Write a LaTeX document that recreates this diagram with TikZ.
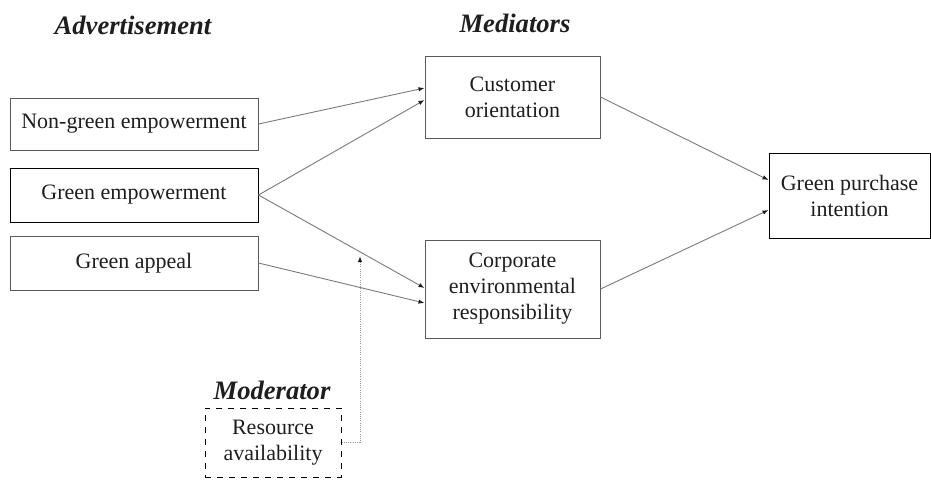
\documentclass[tikz,border=0pt]{standalone}
\usepackage{fontspec}
\setmainfont{Liberation Serif}
\usetikzlibrary{arrows.meta, positioning, calc}
\definecolor{cmInk}{HTML}{1E1E1E}
\definecolor{cmFrame}{HTML}{5A5A5A}
\definecolor{cmLine}{HTML}{7A7A7A}
\definecolor{cmDot}{HTML}{8C97B0}
\tikzset{
  cmbox/.style={
    draw=cmFrame, line width=0.5pt, text=cmInk, align=center,
    inner sep=0pt, font=\fontsize{11}{13}\selectfont,
  },
  cmtitle/.style={
    text=cmInk, inner sep=0pt, font=\fontsize{13.3}{15}\selectfont\bfseries\itshape,
  },
  cmarrow/.style={
    -{Latex[length=3pt, width=2.2pt, color=cmInk]}, draw=cmLine, line width=0.45pt,
  },
  cmdotted/.style={
    -{Latex[length=3pt, width=2.2pt, color=cmInk]}, draw=cmDot, line width=0.5pt,
    dash pattern=on 0.5pt off 0.6pt,
  },
}

\begin{document}
\begin{tikzpicture}[x=0.5pt, y=-0.5pt]
\useasboundingbox (0,0) rectangle (931,479);

% Titles ------------------------------------------------------------------
\node[cmtitle] (tadv) at (133,25) {Advertisement};
\node[cmtitle] (tmed) at (515,23) {Mediators};
\node[cmtitle] (tmod) at (272,390) {Moderator};

% Advertisement -----------------------------------------------------------
\node[cmbox, minimum width=124pt, minimum height=26pt] (ng) at (134,124) {Non-green empowerment};
\node[cmbox, draw=black, minimum width=124pt, minimum height=27pt] (g) at (134,195) {Green empowerment};
\node[cmbox, minimum width=124pt, minimum height=27pt] (ga) at (134,263) {Green appeal};

% Mediators and outcome ---------------------------------------------------
\node[cmbox, minimum width=87.5pt, minimum height=41pt] (co) at (512.5,97) {Customer\\orientation};
\node[cmbox, minimum width=87.5pt, minimum height=49pt] (cer) at (512.5,289) {Corporate\\environmental\\responsibility};
\node[cmbox, draw=black, minimum width=80.5pt, minimum height=42.5pt] (gpi) at (849.5,195.5) {Green purchase\\intention};

% Moderator ---------------------------------------------------------------
\node[cmbox, draw=black, dashed, minimum width=68pt, minimum height=34.5pt] (ra) at (273,442.5) {Resource\\availability};
\coordinate (mod) at (360,256);

% Paths -------------------------------------------------------------------
\draw[cmarrow] (ng.east) -- ($(co.west)+(0,-9)$);
\draw[cmarrow] (g.east) -- ($(co.west)+(0,3)$);
\draw[cmarrow] (g.east) -- ($(cer.west)+(0,-1)$);
\draw[cmarrow] (ga.east) -- ($(cer.west)+(0,14)$);
\draw[cmarrow] (co.east) -- ($(gpi.west)+(0,-15.5)$);
\draw[cmarrow] (cer.east) -- ($(gpi.west)+(0,14.5)$);
\draw[cmdotted] (ra.east) -| (mod);

\end{tikzpicture}
\end{document}
